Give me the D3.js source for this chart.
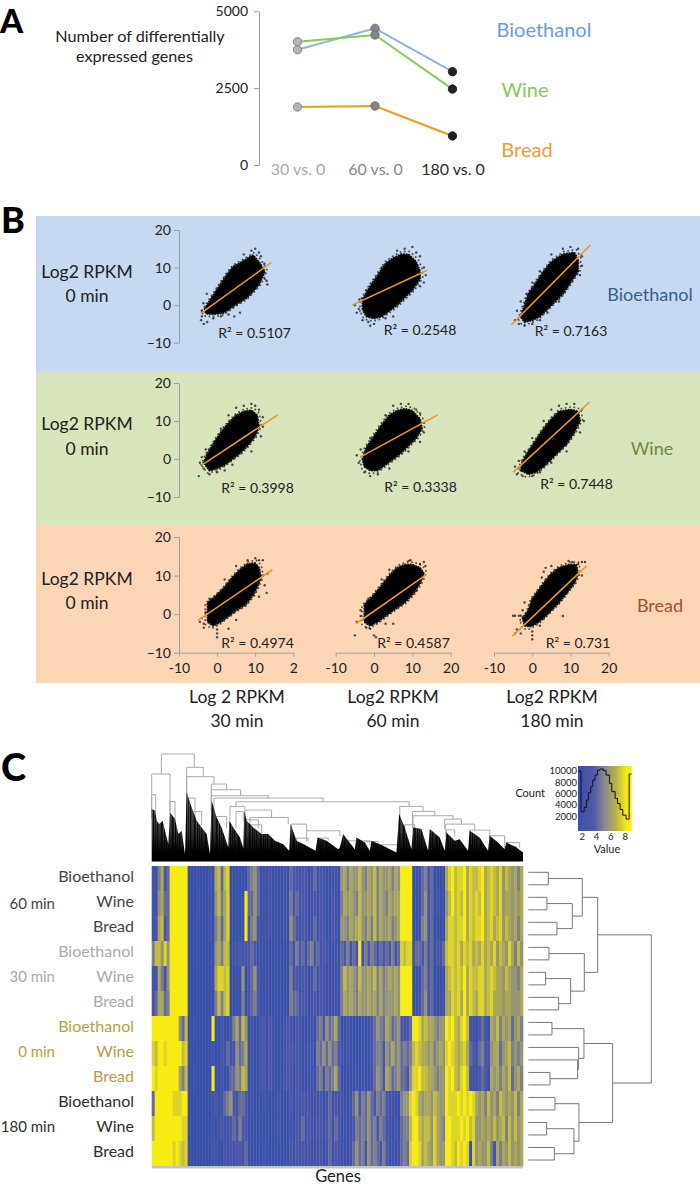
<!DOCTYPE html>
<html><head><meta charset="utf-8">
<script src="https://cdn.jsdelivr.net/npm/d3@7/dist/d3.min.js"></script>
<style>html,body{margin:0;padding:0;background:#fff}svg{display:block}text{font-family:Lato,"Open Sans",sans-serif}</style>
</head><body><svg id="c" width="700" height="1186"></svg>
<script>
// ---------- Panel A data ----------
const comparisons = ["30 vs. 0","60 vs. 0","180 vs. 0"];
const degTicks = [0,2500,5000];
const degBioethanol = [3750,4445,3035];
const degWine = [4010,4230,2470];
const degBread = [1887,1920,945];
// ---------- Panel B data (cloud outline + stray points) ----------
const logTicks = [-10,0,10,20];
const r2Labels = [["0.5107","0.2548","0.7163"],["0.3998","0.3338","0.7448"],["0.4974","0.4587","0.731"]];
const cloudB30=[[-3.2,-.9],[-1.5,1.8],[.7,5.3],[2.5,8],[4.2,10.2],[6.5,11.5],[9.4,13.3],[11,11.5],[12.5,8.9],[11,5.5],[9,3.2],[7.7,1.9],[5,.2],[3,-1.2],[1.6,-2.1],[-1,-2.4],[-3,-2.2]];
const cloudB60=[[-3,-1],[-3,1.5],[-1,5],[1,8],[3,11],[5,12.5],[7,13.5],[9,13.5],[11,11.5],[12,9],[12,7],[10,4],[8,2],[6,0],[4,-1.5],[2,-3],[0,-3.5],[-2,-3]];
const cloudB180=[[-3,-3],[-2,0],[-1,3],[1,6],[3,9],[5,11.5],[8,13.5],[11,14],[12,12],[12,9],[10,6],[8,3],[6,1],[4,-1],[2,-3],[0,-4],[-2,-4.5]];
const cloudW30=[[-3.5,-1],[-2.5,1.5],[-1,4],[1,7],[3,9.5],[5,11.5],[7,12.5],[9,12.8],[10.5,11.5],[11,8.5],[10,6],[8,3.5],[6,1.5],[4,0],[2,-1.5],[0,-2.5],[-2,-3]];
const cloudW60=[[-3,0],[-2,3],[0,6],[2,9],[4,11.5],[6,12.7],[8,13.2],[10,12.7],[12,10.5],[12.5,8],[11,5.5],[9,3.5],[7,1.5],[5,0],[3,-1.5],[1,-3],[-1,-3],[-2.5,-2]];
const cloudW180=[[-3,-3],[-2.5,-.5],[-1,2],[1,5],[3,8],[5,10.5],[7,12.5],[10,13],[12,12.5],[12.5,10],[11,7],[9,4],[7,2],[5,0],[3,-2],[1,-3.5],[-1,-4]];
const cloudR30=[[-2.5,.5],[-2.5,3],[0,5],[2,7],[4,9.5],[6,11.5],[8,13],[10,13.2],[11,12],[11.5,9.5],[10.5,7],[9.5,5],[7.5,2.5],[5,1],[3,-.5],[1,-2],[-1,-3],[-2.5,-2]];
const cloudR60=[[-2.5,0],[-2.5,2.5],[0,5],[2,7.5],[4,10],[6,12],[8,12.8],[10,12.8],[12,12],[13,10.5],[12,8],[10,5],[8,3],[5,1],[3,-.5],[1,-2],[-1,-3],[-2.5,-2]];
const cloudR180=[[-2.5,-1],[-1,1],[0,4],[1.5,6],[3,8],[5,10.5],[7,12],[9.5,12.8],[11.5,12.8],[12,10.5],[11,8],[9,5.5],[7,3],[5,1],[3,-1],[1,-2.5],[-.5,-3.2],[-2,-3]];
const strayB30=[[-4,-3],[-4.2,-4],[-3.5,-5],[-2.6,-4.5],[-4,-1.5],[-3.6,.5],[-1,-3.5],[1,-3],[3,-2.5],[4.5,-3],[6,-2],[9,14.5],[10,15],[11,14],[11.5,13],[12.5,7],[13.2,5.5],[13,6.5],[12,9.8],[7,13.5],[-2.7,3],[12.4,11]];
const strayB60=[[-5,0],[-4,-1],[-3.8,1.5],[-4.5,-2],[-3,-4],[-1.5,-4.5],[0,-5],[3,-3.5],[5,-3],[8,15],[10,15.5],[11,14],[12,13],[13,10],[13.5,8],[13,6],[12,5],[-2,4],[6,14.5],[-1,-5.5],[2,10]];
const strayB180=[[-4.5,-4],[-3.5,-5],[-4,-1.5],[-3,1],[-2,-5.5],[0,-5],[2,-4],[4,-2],[8,15],[10,15.5],[12,15],[13,13],[13,10.5],[12.5,8],[-1.5,3],[0,6],[2,9],[5,13.5],[7,1]];
const strayW30=[[-4.5,-1],[-4.8,-4.5],[-3.5,-2.5],[-4,.5],[-3,2.5],[-2,-4],[0,-3.5],[2,-3],[4,-1.5],[7,14],[9,14.5],[10,14],[11,13],[12,11],[12,8.5],[11.5,6],[1,8],[3,11.5],[5,13.5],[9,2]];
const strayW60=[[-4,-1],[-4.5,1],[-3.5,2.5],[-2.5,-3.5],[-1,-4.5],[1,-4],[4,-2.5],[7,14.5],[9,14.5],[11,13],[12,12],[13,9.5],[13,7],[12,4.5],[-1,5.5],[3,11.5],[5,14],[9,2]];
const strayW180=[[-4.5,-2],[-4,-4],[-3.5,-.5],[-2.5,-4.5],[0,-4.5],[2,-3.5],[5,-1],[7,14],[9,14.5],[11,14.5],[13,13],[13.5,10],[12.5,7],[-2,2],[0,5.5],[3,10],[5,13],[9,2]];
const strayR30=[[-4.5,-2],[-4,-1],[-3.5,-2.5],[-3.5,-3.5],[-3,.5],[0,-4],[0,-5],[0,-6],[3,-3.8],[5,-1.5],[8,14],[10,14.5],[11,14],[12,14],[12,10],[13.2,10.5],[12.5,7.5],[13,5.5],[11,4.5],[-2,4],[2,9],[5,12.5]];
const strayR60=[[-4.5,-2],[-5,-5.5],[-3.5,-.5],[-3.5,1],[-2,-3.5],[-1,-3.8],[0,-5.5],[.5,-6],[3,-2.5],[5,-2.5],[9,13.8],[9.5,14],[12,13],[13,13.5],[13.4,12.5],[12.5,10],[11,6],[-1.5,4],[2,9],[4,11.5]];
const strayR180=[[-5,-.4],[-4.5,-.4],[-3.5,-.4],[-3,-.4],[-4,-4],[-4.5,-5],[-3,-5],[-2.5,1],[-2,3],[0,-4.5],[0,-5.5],[0,-6.5],[2,-3],[3,11],[3.5,12],[2.5,9.5],[9.5,13.8],[10.5,13.5],[12,13],[13,13.5],[13.8,13.5],[13,10],[8,-.5],[5,12.5]];
const lineEnds = [
 [[[-4.3,-2.2],[14.2,11.3]],[[-5.7,0],[13.9,9.3]],[[-5.5,-5.3],[15.2,16]]],
 [[[-4,-1.6],[15.9,11.6]],[[-3.6,.5],[16.6,11.6]],[[-5,-3.5],[15,15]]],
 [[[-5,-1.6],[14.5,11.5]],[[-4.7,-2.5],[13.7,10.3]],[[-5.2,-5.7],[14.2,12.5]]]
];
// ---------- Panel C data ----------
const rowNames = ["Bioethanol","Wine","Bread"];
const geneBrackets = [[29,128,322,262,282],[0,55,262,150,150],[105,155,282,200,254],[105,187,254,150,232],[179,225,232,150,215],[179,267,215,150,197],[180,350,197,130,190],[187,515,190,130,179],[253,773,179,165,165],[235,280,165,100,154],[280,360,154,100,132],[295,410,132,90,112],[420,465,112,70,92],[465,565,92,60,75],[575,655,62,55,50],[662,740,50,40,35],[745,815,165,90,150],[783,850,150,100,137],[785,905,137,90,127],[880,930,127,95,112],[883,970,112,75,94],[955,1015,94,60,77],[1015,1060,77,50,57],[1060,1105,57,30,42],[0,12,200,130,130],[55,70,180,120,120],[105,130,190,130,120],[253,275,150,100,120],[282,320,125,80,100],[120,150,150,90,110],[195,225,135,90,100],[300,330,110,70,85],[435,470,70,50,60],[500,530,70,50,62],[640,680,60,40,45],[760,790,110,60,90],[885,910,95,60,75],[1065,1095,45,30,40]];
const geneMass = [[0,157],[10,152],[15,122],[23,112],[33,122],[40,92],[50,52],[55,147],[70,127],[80,82],[90,92],[100,22],[105,207],[120,162],[135,122],[150,102],[165,82],[175,22],[180,182],[195,132],[210,102],[230,42],[233,122],[245,102],[265,72],[275,40],[278,152],[285,122],[305,102],[330,82],[350,82],[370,62],[395,52],[413,32],[417,112],[435,62],[465,47],[492,32],[498,72],[525,62],[560,37],[565,42],[575,82],[590,62],[610,37],[615,72],[640,57],[655,32],[660,62],[695,47],[735,27],[743,142],[760,102],[780,37],[785,102],[810,97],[830,32],[835,97],[865,72],[880,32],[885,87],[910,62],[925,67],[950,32],[955,92],[985,72],[1010,32],[1015,77],[1040,57],[1060,37],[1065,57],[1095,42],[1115,27]];
const heatmapRows = [
"114623 999999 000100010 67378 000000 3453 0001000010 32212201312100110 56465575465746556465 9999 000 3423 0000 68978896877896787685765646",
"115633 999999 000200010 57468 000009 3353 0001000010 42312201212100210 46565475565746546566 9999 000 3523 0100 57978796878796787685665656",
"126723 999999 000100010 46368 000009 2452 0001000010 53212201312200210 55465675464746556456 9999 000 4523 0000 68878896878896786785765646",
"477585 999999 000100000 56477 011212 2321 0000000000 31423134231210110 32413291424313232423 8788 133 2423 0213 78878687867686768576586475",
"116425 999999 000000000 68878 000050 2352 0000000000 42212201312100110 47565475565746456565 9999 000 3423 0000 67878796877886787665765546",
"236634 999999 000000000 47478 000040 2342 0000000000 43312201212100110 46565465565646455565 9999 001 3523 0011 66878696876886786665665556",
"999999999 537 00100000 9 001002 46375 01001202100012 102100110 34253463 0010000100 2354365345 2113 9986 766 5455 98976897 2102310 65746563564",
"879989999 978 00000000 1 002131 25346 01001202100012 212101120 43535342 1010000100 2344254645 3434 7876 656 4565 89876786 3213422 56635674545",
"989999999 647 00100000 9 001003 35476 01001202100012 202100110 34243463 0000010100 1354265345 3325 8897 766 5455 98976897 2112320 65646573564",
"399999988899 00000000 12013 4521 332 01000100001000 20212120112013121 1001 352435324342 1100 455 8986 5665765 5 9888989898 6564756476565746",
"799999999988 00000000 10121 1232 422 00000000001000 10213121122023132 0101 243435342431 1010 344 7997 6775865 4 9988898978 5565657567475756",
"999999989878 00000000 11002 1212 213 00000100000000 21212120112013121 0001 353425343242 0101 343 8998 6765865 5 9987989808 5655741646575656"
];
const sampleTree = [369,
 [208,[162,[60,0,1],[132,[56,2,3],[86,4,5]]],[168,[62,6,7],[127,[52,8,9],[91,10,11]]]],
 [253,[167,[71,12,13],[151,14,[148,15,[65,16,17]]]],[152,[80,18,19],[137,[55,20,21],[78,22,23]]]]];
const histValue = [1.5,1.9,2.33,2.65,2.93,3.26,3.54,3.86,4.19,4.56,5.03,5.4,5.87,6.2,6.66,6.99,7.36,7.73,8.2,8.62,8.95];
const histCount = [9900,2750,3500,4800,6100,7200,8350,9230,10100,10300,10000,9230,7760,6300,5100,4200,3150,2150,1450,9400];
const histTicksY = [2000,4000,6000,8000,10000];
const histTicksX = [2,4,6,8];

// ---------- Drawing ----------
const svg = d3.select("#c");
const defs=svg.append("defs");
const txt=(s,x,y,size,fill,anchor="middle",weight=400)=>svg.append("text").attr("x",x).attr("y",y).attr("font-size",size).attr("fill",fill).attr("text-anchor",anchor).attr("font-weight",weight).text(s);
const styleAxis=(g,col,size,tcol)=>{g.selectAll("path,line").attr("stroke",col);g.selectAll("text").attr("font-size",size).attr("fill",tcol).attr("font-family","Lato")};

txt("A",0,32.5,33,"#000","start",900);
txt("B",1,233,36,"#000","start",900);
txt("C",1,781,38,"#000","start",900);

// Panel A
const ax = d3.scalePoint().domain(comparisons).range([297.5,452.5]);
const ay = d3.scaleLinear().domain([0,5000]).range([165,11.3]);
const gA = svg.append("g").attr("transform","translate(259,0)").call(d3.axisLeft(ay).tickValues(degTicks).tickSize(5).tickSizeOuter(0).tickPadding(6).tickFormat(d3.format("d")));
styleAxis(gA,"#999",14,"#222");
const gAx = svg.append("g").attr("transform","translate(0,164)").call(d3.axisBottom(ax).tickSize(0).tickPadding(0));
gAx.select(".domain").remove();
const xCols=["#aaaaaa","#888888","#2b2b2b"];
gAx.selectAll("text").attr("font-size",16).attr("font-family","Lato").attr("fill",(d,i)=>xCols[i]);
const ptFill=["#b5b5b5","#858585","#222222"], ptStroke=["#777","#666","#111"];
[[degBioethanol,"#93b3e0"],[degWine,"#8dc75c"],[degBread,"#f29a20"]].forEach(([vals,col])=>{
  svg.append("path").attr("fill","none").attr("stroke",col).attr("stroke-width",2)
    .attr("d",d3.line().x((d,i)=>ax(comparisons[i])).y(d=>ay(d))(vals));
  svg.selectAll(null).data(vals).join("circle").attr("cx",(d,i)=>ax(comparisons[i])).attr("cy",d=>ay(d)).attr("r",4.2)
    .attr("fill",(d,i)=>ptFill[i]).attr("stroke",(d,i)=>ptStroke[i]).attr("stroke-width",.8);
});
txt("Number of differentially",140,42,16.2,"#222");
txt("expressed genes",134.5,61.6,16.2,"#222");
txt("Bioethanol",544,37,20,"#6c9bd2");
txt("Wine",525,97,20,"#8cc65a");
txt("Bread",527,157,20,"#f29a35");

// Panel B
const bands=[[216,371,"#c6d9f1"],[371,525,"#d8e4bc"],[525,683,"#fcd5b5"]];
bands.forEach(b=>svg.append("rect").attr("x",36).attr("width",664).attr("y",b[0]).attr("height",b[1]-b[0]).attr("fill",b[2]));
const rowY=[[342.7,230],[497,383],[652.7,537]];
const colX=[[179,293.3],[335.7,450.7],[494,608.7]];
const outlines=[[cloudB30,cloudB60,cloudB180],[cloudW30,cloudW60,cloudW180],[cloudR30,cloudR60,cloudR180]];
const strays=[[strayB30,strayB60,strayB180],[strayW30,strayW60,strayW180],[strayR30,strayR60,strayR180]];
const r2pos=[[[254.5,338],[420,335],[571,336]],[[257.5,493],[420.5,492],[576.5,489]],[[257.5,647.7],[413.5,648],[578,648]]];
rowY.forEach((ry,r)=>{
  const y=d3.scaleLinear().domain([-10,20]).range(ry);
  const g=svg.append("g").attr("transform","translate(179,0)").call(d3.axisLeft(y).tickValues(logTicks).tickSize(5).tickSizeOuter(0).tickPadding(3));
  styleAxis(g,"#9aa0a8",14,"#222");
  colX.forEach((cx,c)=>{
    const x=d3.scaleLinear().domain([-10,20]).range(cx);
    if(r===2){
      const gx=svg.append("g").attr("transform",`translate(0,${ry[0]})`).call(d3.axisBottom(x).tickValues(logTicks).tickSize(4).tickSizeOuter(0).tickPadding(6).tickFormat(d=>(c===0&&d===20)?"2":d));
      styleAxis(gx,"#a8a29a",14,"#222");
    }
    const poly=outlines[r][c], cen=d3.polygonCentroid(poly);
    const cloudLine=d3.line().x(d=>x(d[0])).y(d=>y(d[1])).curve(d3.curveLinearClosed);
    svg.append("path").attr("fill","#000").attr("d",cloudLine(poly));
    // speckled fringe of the point cloud
    svg.append("path").attr("fill","none").attr("stroke","#111").attr("stroke-width",2.3).attr("stroke-linecap","round").attr("stroke-dasharray","0.1 2.6").attr("d",cloudLine(poly));
    const wider=poly.map(p=>[cen[0]+(p[0]-cen[0])*1.09,cen[1]+(p[1]-cen[1])*1.09]);
    svg.append("path").attr("fill","none").attr("stroke","#222").attr("stroke-opacity",.75).attr("stroke-width",1.9).attr("stroke-linecap","round").attr("stroke-dasharray","0.1 4.3").attr("d",cloudLine(wider));
    svg.selectAll(null).data(strays[r][c]).join("circle").attr("cx",d=>x(d[0])).attr("cy",d=>y(d[1])).attr("r",1.2).attr("fill","#222").attr("fill-opacity",.8);
    svg.append("path").attr("fill","none").attr("stroke","#e8982f").attr("stroke-width",1.6)
      .attr("d",d3.line().x(d=>x(d[0])).y(d=>y(d[1]))(lineEnds[r][c]));
    txt("R² = "+r2Labels[r][c],r2pos[r][c][0],r2pos[r][c][1],14,"#222");
  });
});
[[278,302],[430,455],[585,609]].forEach(p=>{txt("Log2 RPKM",87,p[0],17.5,"#222");txt("0 min",87,p[1],17.5,"#222");});
txt("Bioethanol",650,301,18,"#35608f");
txt("Wine",652,455,18,"#6f8a3a");
txt("Bread",660,612,18,"#a0522d");
[["Log 2 RPKM","30 min",237],["Log2 RPKM","60 min",393],["Log2 RPKM","180 min",552]].forEach(d=>{
  txt(d[0],d[2],703,17.5,"#222");txt(d[1],d[2],727,17.5,"#222");
});

// Panel C heatmap
const hmRows=heatmapRows.map(s=>s.replace(/ /g,"").split("").map(Number));
const heat=d3.scaleLinear().domain([0,2,4.5,6.5,9]).range(["#3a50a8","#4a54a8","#8a8a82","#b5b04a","#f7ec12"]);
const hy=d3.scaleBand().domain(d3.range(hmRows.length)).range([866,1166]);
hmRows.forEach((row,r)=>{
  const hx=d3.scaleBand().domain(d3.range(row.length)).range([151.7,523]);
  svg.append("g").selectAll("rect").data(row).join("rect")
    .attr("x",(d,i)=>hx(i)).attr("y",hy(r)).attr("width",hx.bandwidth()+.3).attr("height",hy.bandwidth()+.3).attr("fill",d=>heat(d));
});
svg.append("rect").attr("x",151.7).attr("y",1166).attr("width",371.3).attr("height",2.5).attr("fill","#c4c4c4");
txt("Genes",338,1182,16.5,"#222");

// top dendrogram
const gx=d3.scaleLinear().domain([0,1115]).range([151.7,523]);
const gy=d3.scaleLinear().domain([0,322]).range([861.5,754]);
const fade=defs.append("linearGradient").attr("id","fade").attr("gradientUnits","userSpaceOnUse").attr("x1",0).attr("x2",0).attr("y1",795).attr("y2",853);
[[0,.65],[.6,.45],[1,0]].forEach(s=>fade.append("stop").attr("offset",s[0]).attr("stop-color","#fff").attr("stop-opacity",s[1]));
const comb=defs.append("pattern").attr("id","comb").attr("patternUnits","userSpaceOnUse").attr("x",0).attr("y",0).attr("width",11).attr("height",1186);
[[0.5,.7],[2.5,.6],[4.6,.9],[6.6,.5],[8.8,.8]].forEach(s=>comb.append("rect").attr("x",s[0]).attr("y",0).attr("width",s[1]).attr("height",1186).attr("fill","url(#fade)"));
const massArea=d3.area().x(d=>gx(d[0])).y0(gy(0)).y1(d=>gy(d[1]));
const bp=d3.path();
geneBrackets.forEach(b=>{bp.moveTo(gx(b[0]),gy(b[3]));bp.lineTo(gx(b[0]),gy(b[2]));bp.lineTo(gx(b[1]),gy(b[2]));bp.lineTo(gx(b[1]),gy(b[4]));});
svg.append("path").attr("fill","none").attr("stroke","#aaa").attr("stroke-width",1).attr("d",bp.toString());
svg.append("path").attr("fill","#000").attr("d",massArea(geneMass));
svg.append("path").attr("fill","url(#comb)").attr("d",massArea(geneMass));

// right dendrogram
const root=d3.hierarchy(sampleTree,d=>Array.isArray(d)?d.slice(1):null);
const leafY=d3.scalePoint().domain(d3.range(24)).range([872.3,1160]);
const rx=d3.scaleLinear().domain([0,369]).range([528.3,651.3]);
root.eachAfter(n=>{
  if(n.children){n.py=d3.mean(n.children,c=>c.py);n.px=rx(n.data[0]);}
  else{n.py=leafY(n.data);n.px=rx(0);}
});
const rp=d3.path();
root.each(n=>{ if(n.children){const[a,b]=n.children;
  rp.moveTo(a.px,a.py);rp.lineTo(n.px,a.py);rp.lineTo(n.px,b.py);rp.lineTo(b.px,b.py);} });
svg.append("path").attr("fill","none").attr("stroke","#777").attr("stroke-width",1).attr("d",rp.toString());

// row labels
const rowCols=["#444444","#aaaaaa","#b8a040","#2e2e2e"];
const timeLabels=[["60 min",55,909],["30 min",55,982],["0 min",55,1057],["180 min",55,1132]];
d3.range(12).forEach(i=>{
  txt(rowNames[i%3],134,hy(i)+hy.bandwidth()/2+3,16,rowCols[Math.floor(i/3)],"end");
});
timeLabels.forEach((t,i)=>txt(t[0],t[1],t[2],15,rowCols[i],"end"));

// colour key
const lg=defs.append("linearGradient").attr("id","key");
[[0,"#3a50a8"],[.3,"#5458a8"],[.5,"#8a8a90"],[.7,"#b5b04a"],[.9,"#f5ea14"],[1,"#f7ec12"]].forEach(s=>lg.append("stop").attr("offset",s[0]).attr("stop-color",s[1]));
const kx=d3.scaleLinear().domain([1.48,8.98]).range([578,631.7]);
const ky=d3.scaleLinear().domain([2000,10000]).range([816,770.7]);
svg.append("rect").attr("x",578).attr("y",766).attr("width",53.7).attr("height",65).attr("fill","url(#key)");
const hp=d3.path();
histCount.forEach((c,i)=>{ if(i===0)hp.moveTo(kx(histValue[0]),ky(c)); else hp.lineTo(kx(histValue[i]),ky(c)); hp.lineTo(kx(histValue[i+1]),ky(c)); });
svg.append("path").attr("fill","none").attr("stroke","#111").attr("stroke-width",1).attr("d",hp.toString());
const gkY=svg.append("g").attr("transform","translate(578,0)").call(d3.axisLeft(ky).tickValues(histTicksY).tickSize(0).tickPadding(1).tickFormat(d3.format("d")));
gkY.select(".domain").remove(); gkY.selectAll("text").attr("font-size",9.5).attr("fill","#222").attr("font-family","Lato");
const gkX=svg.append("g").attr("transform","translate(0,831)").call(d3.axisBottom(kx).tickValues(histTicksX).tickSize(0).tickPadding(2));
gkX.select(".domain").remove(); gkX.selectAll("text").attr("font-size",9.5).attr("fill","#222").attr("font-family","Lato");
txt("Count",545,797,11,"#222","end");
txt("Value",607,853,11,"#222");
</script></body></html>
